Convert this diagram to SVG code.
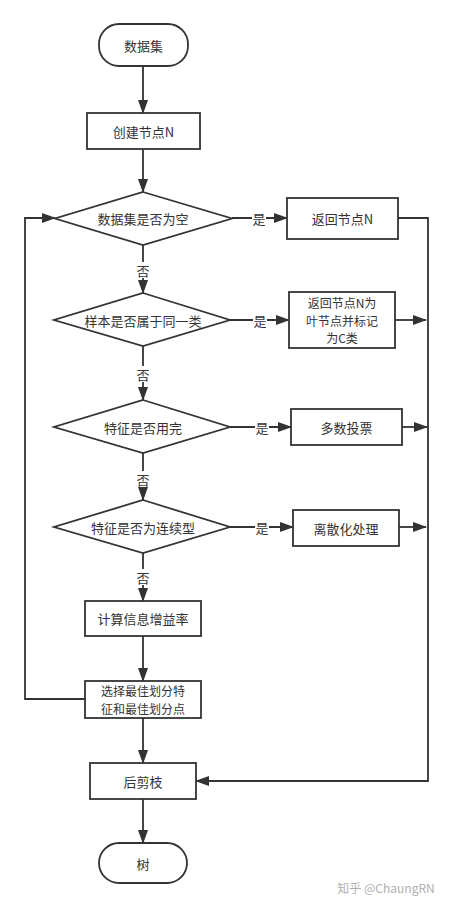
<svg xmlns="http://www.w3.org/2000/svg" width="452" height="908" viewBox="0 0 452 908">
<style>
.n{fill:#fff;stroke:#333;stroke-width:1.8}
.t{font-family:"Noto Sans CJK SC","Liberation Sans",sans-serif;font-size:13px;fill:#333;text-anchor:middle;dominant-baseline:central}
.m{font-size:12px}
.e{fill:none;stroke:#333;stroke-width:1.8}
.lb{fill:#fff}
</style>
<defs>
<marker id="a" markerUnits="userSpaceOnUse" markerWidth="14" markerHeight="12" refX="13" refY="5" orient="auto" viewBox="0 0 14 10">
<path d="M0,0 L14,5 L0,10 z" fill="#333"/>
</marker>
</defs>
<rect width="452" height="908" fill="#fff"/>
<g id="connectors">
<path class="e" d="M143,66 V113" marker-end="url(#a)"/>
<path class="e" d="M143,149 V192" marker-end="url(#a)"/>
<path class="e" d="M232,218 H287" marker-end="url(#a)"/>
<path class="e" d="M398,218 H428 V781 H196" marker-end="url(#a)"/>
<path class="e" d="M143,245 V293" marker-end="url(#a)"/>
<path class="e" d="M230,320 H289" marker-end="url(#a)"/>
<path class="e" d="M395,320 H426" marker-end="url(#a)"/>
<path class="e" d="M143,346 V400" marker-end="url(#a)"/>
<path class="e" d="M230,427 H291" marker-end="url(#a)"/>
<path class="e" d="M402,427 H427" marker-end="url(#a)"/>
<path class="e" d="M143,453 V500" marker-end="url(#a)"/>
<path class="e" d="M230,527 H293" marker-end="url(#a)"/>
<path class="e" d="M399,527 H426" marker-end="url(#a)"/>
<path class="e" d="M143,553 V601" marker-end="url(#a)"/>
<path class="e" d="M143,636 V681" marker-end="url(#a)"/>
<path class="e" d="M85,699 H25 V218 H55" marker-end="url(#a)"/>
<path class="e" d="M143,718 V763" marker-end="url(#a)"/>
<path class="e" d="M143,799 V843" marker-end="url(#a)"/>
<rect class="lb" x="252" y="210" width="14" height="16"/>
<text class="t" x="259" y="218">是</text>
<rect class="lb" x="253" y="312" width="14" height="16"/>
<text class="t" x="260" y="320">是</text>
<rect class="lb" x="255" y="419" width="14" height="16"/>
<text class="t" x="262" y="427">是</text>
<rect class="lb" x="255" y="519" width="14" height="16"/>
<text class="t" x="262" y="527">是</text>
<rect class="lb" x="136" y="262" width="14" height="16"/>
<text class="t" x="143" y="270">否</text>
<rect class="lb" x="136" y="366" width="14" height="16"/>
<text class="t" x="143" y="374">否</text>
<rect class="lb" x="136" y="471" width="14" height="16"/>
<text class="t" x="143" y="479">否</text>
<rect class="lb" x="136" y="569" width="14" height="16"/>
<text class="t" x="143" y="577">否</text>
</g>
<g id="start">
<rect class="n" x="99" y="24" width="89" height="42" rx="20"/>
<text class="t" x="143.5" y="45">数据集</text>
</g>
<g id="create">
<rect class="n" x="87" y="113" width="113" height="36"/>
<text class="t" x="143.5" y="131">创建节点N</text>
</g>
<g id="d1">
<polygon class="n" points="143,192 232,218.5 143,245 55,218.5"/>
<text class="t" x="143" y="218.5">数据集是否为空</text>
</g>
<g id="ret1">
<rect class="n" x="287" y="198" width="111" height="41"/>
<text class="t" x="342.5" y="218.5">返回节点N</text>
</g>
<g id="d2">
<polygon class="n" points="143,293 230,320 143,346 54,320"/>
<text class="t" x="143" y="320">样本是否属于同一类</text>
</g>
<g id="ret2">
<rect class="n" x="289" y="292" width="106" height="56"/>
<text class="t m" x="342" y="302.5">返回节点N为</text>
<text class="t m" x="342" y="320">叶节点并标记</text>
<text class="t m" x="342" y="337.5">为C类</text>
</g>
<g id="d3">
<polygon class="n" points="143,400 230,427 143,453 54,427"/>
<text class="t" x="143" y="427">特征是否用完</text>
</g>
<g id="vote">
<rect class="n" x="291" y="409" width="111" height="36"/>
<text class="t" x="346.5" y="427">多数投票</text>
</g>
<g id="d4">
<polygon class="n" points="143,500 230,527 143,553 54,527"/>
<text class="t" x="143" y="527">特征是否为连续型</text>
</g>
<g id="disc">
<rect class="n" x="293" y="510" width="106" height="36"/>
<text class="t" x="346" y="528">离散化处理</text>
</g>
<g id="gain">
<rect class="n" x="85" y="601" width="116" height="35"/>
<text class="t" x="143" y="618.5">计算信息增益率</text>
</g>
<g id="select">
<rect class="n" x="85" y="681" width="116" height="37"/>
<text class="t m" x="143" y="690.75">选择最佳划分特</text>
<text class="t m" x="143" y="708.25">征和最佳划分点</text>
</g>
<g id="prune">
<rect class="n" x="90" y="763" width="106" height="36"/>
<text class="t" x="143" y="781">后剪枝</text>
</g>
<g id="end">
<rect class="n" x="99" y="843" width="88" height="40" rx="20"/>
<text class="t" x="143" y="863">树</text>
</g>
<text x="386" y="887" font-family="Noto Sans CJK SC,Liberation Sans,sans-serif" font-size="12" fill="#b0b0b0" text-anchor="middle" dominant-baseline="central">知乎 @ChaungRN</text>
</svg>
